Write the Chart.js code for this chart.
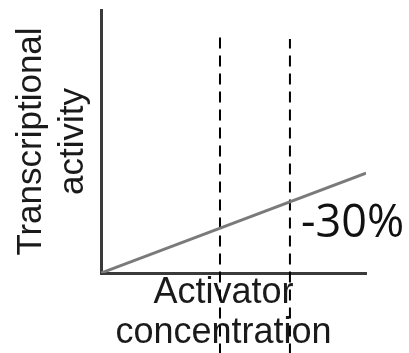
<!DOCTYPE html>
<html>
<head>
<meta charset="utf-8">
<script src="https://cdn.jsdelivr.net/npm/chart.js@4.4.1/dist/chart.umd.min.js"></script>
<style>
  html, body { margin: 0; padding: 0; background: #fff; }
  #wrap { width: 409px; height: 353px; }
</style>
</head>
<body>
<div id="wrap"><canvas id="chart"></canvas></div>
<script>
// activity rises linearly with activator concentration
const activatorX = [0, 100];
const activityY = [0, 38];

// two reference concentrations marked with dashed lines
const markX = [44.9, 71.3];
const markTop = [91.3, 89.0];
const markBottom = -31;

const markLabel = "-30%";
const xTitle = ["Activator  ", "concentration  "];
const yTitle = ["Transcriptional", "activity"];

const linePoints = activatorX.map((x, i) => ({ x: x, y: activityY[i] }));

const markSets = markX.map((x, i) => ({
    data: [{ x: x, y: markBottom }, { x: x, y: markTop[i] }],
    borderColor: "#000",
    borderWidth: 2,
    borderDash: [11, 7],
    pointRadius: 0,
    clip: false
}));

const labelPlugin = {
    id: "markLabel",
    afterDatasetsDraw(chart) {
        const { ctx, scales } = chart;
        const px = scales.x.getPixelForValue(markX[1]) + 11;
        const py = scales.y.getPixelForValue(13.7);
        ctx.save();
        ctx.font = "45px 'Open Sans'";
        ctx.fillStyle = "#111";
        ctx.textAlign = "left";
        ctx.textBaseline = "alphabetic";
        ctx.fillText(markLabel, px, py);
        ctx.restore();
    }
};

window.myChart = new Chart(document.getElementById("chart").getContext("2d"), {
    type: "line",
    data: {
        datasets: [{
            data: linePoints,
            borderColor: "#7a7a7a",
            borderWidth: 3,
            pointRadius: 0
        }, ...markSets]
    },
    options: {
        responsive: true,
        maintainAspectRatio: false,
        animation: false,
        layout: { padding: { top: 10, right: 43, left: 0, bottom: 0 } },
        plugins: { legend: { display: false }, tooltip: { enabled: false } },
        scales: {
            x: {
                type: "linear",
                min: 0,
                max: 100,
                ticks: { display: false },
                grid: { display: false, drawTicks: false },
                border: { color: "#3a3a3a", width: 3 },
                title: {
                    display: true,
                    text: xTitle,
                    color: "#1a1a1a",
                    font: { family: "'Liberation Sans', Arial", size: 36, lineHeight: 1.111 },
                    padding: { top: 0, bottom: 0 }
                }
            },
            y: {
                type: "linear",
                min: 0,
                max: 100,
                ticks: { display: false },
                grid: { display: false, drawTicks: false },
                border: { color: "#3a3a3a", width: 3 },
                title: {
                    display: true,
                    text: yTitle,
                    color: "#1a1a1a",
                    font: { family: "'Liberation Sans', Arial", size: 35, lineHeight: 1.2 },
                    padding: { top: 10, bottom: 7 }
                }
            }
        }
    },
    plugins: [labelPlugin]
});
</script>
</body>
</html>
